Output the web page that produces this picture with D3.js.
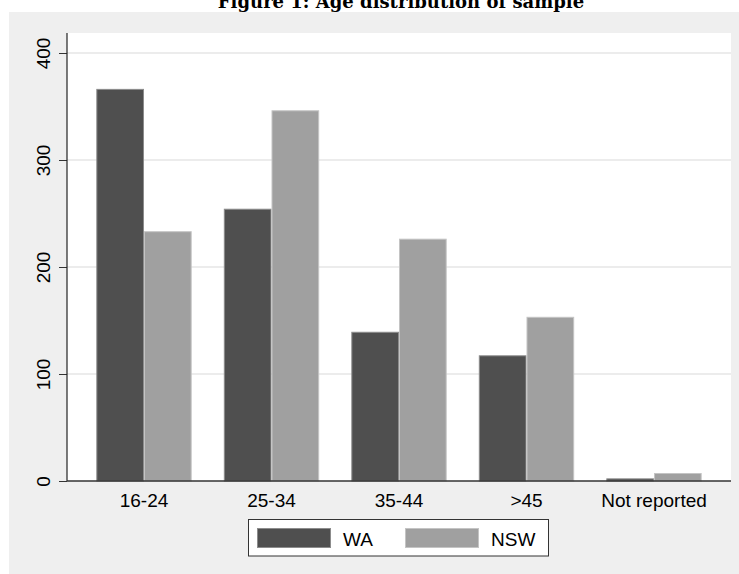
<!DOCTYPE html>
<html>
<head>
<meta charset="utf-8">
<script src="https://cdn.jsdelivr.net/npm/d3@7"></script>
<style>
  html, body { margin: 0; padding: 0; background: #fff; }
  svg { display: block; }
</style>
</head>
<body>
<svg id="chart" width="739" height="574"></svg>
<script>
var categories = ['16-24', '25-34', '35-44', '>45', 'Not reported'];
var seriesNames = ['WA', 'NSW'];
var waValues = [366, 254, 139, 117, 2];
var nswValues = [233, 346, 226, 153, 7];
var yTicks = [0, 100, 200, 300, 400];
var colors = {'WA': '#4f4f4f', 'NSW': '#a0a0a0'};
var strokes = {'WA': '#8c8c8c', 'NSW': '#c4c4c4'};

var rows = categories.map(function(c, i) {
  return {cat: c, WA: waValues[i], NSW: nswValues[i]};
});

var svg = d3.select('#chart');
var plotLeft = 67, plotRight = 731, plotTop = 33, plotBottom = 481;

// outer grey panel
svg.append('rect').attr('x', 9).attr('y', 12).attr('width', 730).attr('height', 562).attr('fill', '#efefef');
svg.append('rect').attr('x', plotLeft).attr('y', plotTop).attr('width', plotRight - plotLeft)
  .attr('height', plotBottom - plotTop).attr('fill', '#fff');

// title (clipped at top in the original)
svg.append('text').attr('x', 401).attr('y', 8).attr('text-anchor', 'middle')
  .style('font-family', '"DejaVu Serif", serif').style('font-weight', 'bold').style('font-size', '18px')
  .text('Figure 1: Age distribution of sample');

var x0 = d3.scaleBand().domain(categories).range([plotLeft, plotRight]).paddingInner(0.252).paddingOuter(0.23);
var x1 = d3.scaleBand().domain(seriesNames).range([0, x0.bandwidth()]);
var y = d3.scaleLinear().domain([0, 400]).range([plotBottom, 53]);

// gridlines
svg.selectAll('line.grid').data(yTicks.filter(d => d > 0)).enter().append('line')
  .attr('x1', plotLeft).attr('x2', plotRight).attr('y1', d => y(d)).attr('y2', d => y(d))
  .attr('stroke', '#e6e6e6').attr('stroke-width', 1.5);

// bars
var groups = svg.selectAll('g.grp').data(rows).enter().append('g')
  .attr('transform', d => 'translate(' + x0(d.cat) + ',0)');
groups.selectAll('rect').data(d => seriesNames.map(k => ({key: k, value: d[k]}))).enter().append('rect')
  .attr('x', d => x1(d.key) + 0.5).attr('y', d => y(d.value))
  .attr('width', x1.bandwidth() - 1).attr('height', d => y(0) - y(d.value))
  .attr('fill', d => colors[d.key]).attr('stroke', d => strokes[d.key]).attr('stroke-width', 1);

// y axis
var yAxis = d3.axisLeft(y).tickValues(yTicks).tickSize(8).tickPadding(0).tickFormat(d3.format('d'));
var ya = svg.append('g').attr('transform', 'translate(' + plotLeft + ',0)').call(yAxis);
ya.select('.domain').remove();
ya.selectAll('.tick line').attr('stroke', '#333');
ya.selectAll('.tick text').attr('x', null).attr('dy', null).attr('text-anchor', 'middle')
  .attr('transform', 'translate(-17,0) rotate(-90)')
  .style('font-family', '"Liberation Sans", Arial, sans-serif').style('font-size', '19px').attr('fill', '#000');
svg.append('line').attr('x1', plotLeft).attr('x2', plotLeft).attr('y1', plotTop).attr('y2', plotBottom)
  .attr('stroke', '#222').attr('stroke-width', 1.2);

// x axis
var xAxis = d3.axisBottom(x0).tickSize(0).tickPadding(0);
var xa = svg.append('g').attr('transform', 'translate(0,' + plotBottom + ')').call(xAxis);
xa.select('.domain').remove();
xa.selectAll('.tick text').attr('y', 26).attr('dy', null)
  .style('font-family', '"Liberation Sans", Arial, sans-serif').style('font-size', '19px').attr('fill', '#000');
svg.append('line').attr('x1', plotLeft).attr('x2', plotRight).attr('y1', plotBottom).attr('y2', plotBottom)
  .attr('stroke', '#333').attr('stroke-width', 1.5);

// legend
var legend = svg.append('g');
legend.append('rect').attr('x', 248.5).attr('y', 519.5).attr('width', 300).attr('height', 36.5)
  .attr('fill', '#fff').attr('stroke', '#333').attr('stroke-width', 1);
var legX = d3.scaleOrdinal().domain(seriesNames).range([257, 405]);
var legItems = legend.selectAll('g.item').data(seriesNames).enter().append('g')
  .attr('transform', d => 'translate(' + legX(d) + ',0)');
legItems.append('rect').attr('x', 0.5).attr('y', 528.5).attr('width', 73).attr('height', 19)
  .attr('fill', d => colors[d]).attr('stroke', d => strokes[d]).attr('stroke-width', 1);
legItems.append('text').attr('x', 86).attr('y', 546)
  .style('font-family', '"Liberation Sans", Arial, sans-serif').style('font-size', '19px')
  .text(d => d);
</script>
</body>
</html>
